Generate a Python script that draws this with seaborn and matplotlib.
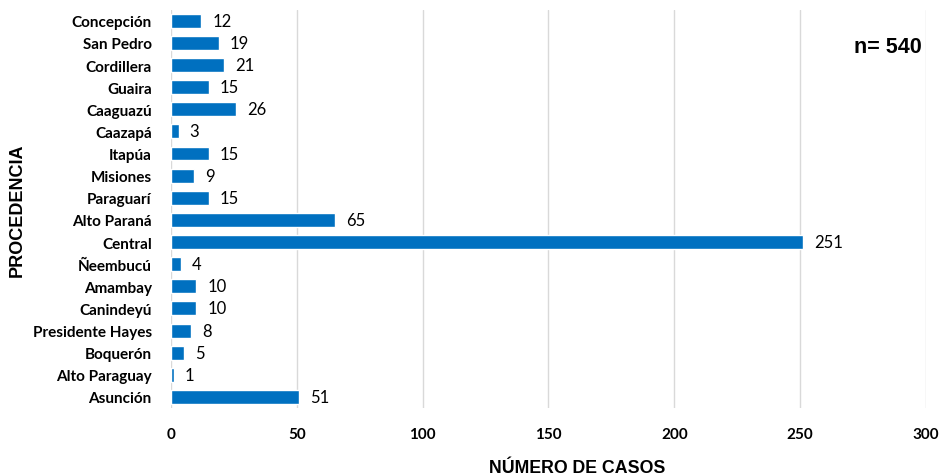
import matplotlib
matplotlib.use("Agg")
import matplotlib.pyplot as plt
import seaborn as sns
import pandas as pd

categories = ["Concepción", "San Pedro", "Cordillera", "Guaira", "Caaguazú", "Caazapá",
              "Itapúa", "Misiones", "Paraguarí", "Alto Paraná", "Central", "Ñeembucú",
              "Amambay", "Canindeyú", "Presidente Hayes", "Boquerón", "Alto Paraguay", "Asunción"]
values = [12, 19, 21, 15, 26, 3, 15, 9, 15, 65, 251, 4, 10, 10, 8, 5, 1, 51]
x_ticks = [0, 50, 100, 150, 200, 250, 300]

sns.set_theme(style="white")
plt.rcParams['font.family'] = ['Lato', 'DejaVu Sans']

df = pd.DataFrame({"cat": categories, "val": values})

fig = plt.figure(figsize=(9.4, 4.77), dpi=100)
ax = fig.add_axes([0.182, 0.1426, 0.803, 0.835])
sns.barplot(data=df, x="val", y="cat", orient="h", color="#0070C0", saturation=1,
            width=0.63, ax=ax, order=categories)

ax.set_xlim(0, 300)
ax.set_ylim(17.5, -0.5)
ax.set_xticks(x_ticks)
ax.set_xticklabels([str(t) for t in x_ticks], fontsize=11, fontweight="bold", color="#000000")
ax.grid(axis="x", color="#d9d9d9", linewidth=1)
ax.set_axisbelow(True)
for s in ax.spines.values():
    s.set_visible(False)
ax.tick_params(axis="both", length=0)
ax.tick_params(axis="x", pad=14)
ax.tick_params(axis="y", pad=14)
for lbl in ax.get_yticklabels():
    lbl.set_fontweight("bold")
    lbl.set_fontsize(11)
    lbl.set_color("#000000")

for c in ax.containers:
    ax.bar_label(c, labels=[str(v) for v in values], padding=8, fontsize=12, color="#000000")

ax.set_xlabel("NÚMERO DE CASOS", fontsize=12.8, fontweight="bold", color="#000000",
              family=["Liberation Sans", "DejaVu Sans"])
ax.set_ylabel("PROCEDENCIA", fontsize=13, fontweight="bold", color="#000000",
              family=["Liberation Sans", "DejaVu Sans"])
ax.yaxis.set_label_coords(-0.192, 0.5)
ax.xaxis.set_label_coords(0.538, -0.127)

fig.text(0.945, 0.901, "n= 540", fontsize=15.5, fontweight="bold", color="#000000",
         family=["Liberation Sans", "DejaVu Sans"], ha="center", va="center")

fig.savefig("out.png", dpi=100, facecolor="white")
